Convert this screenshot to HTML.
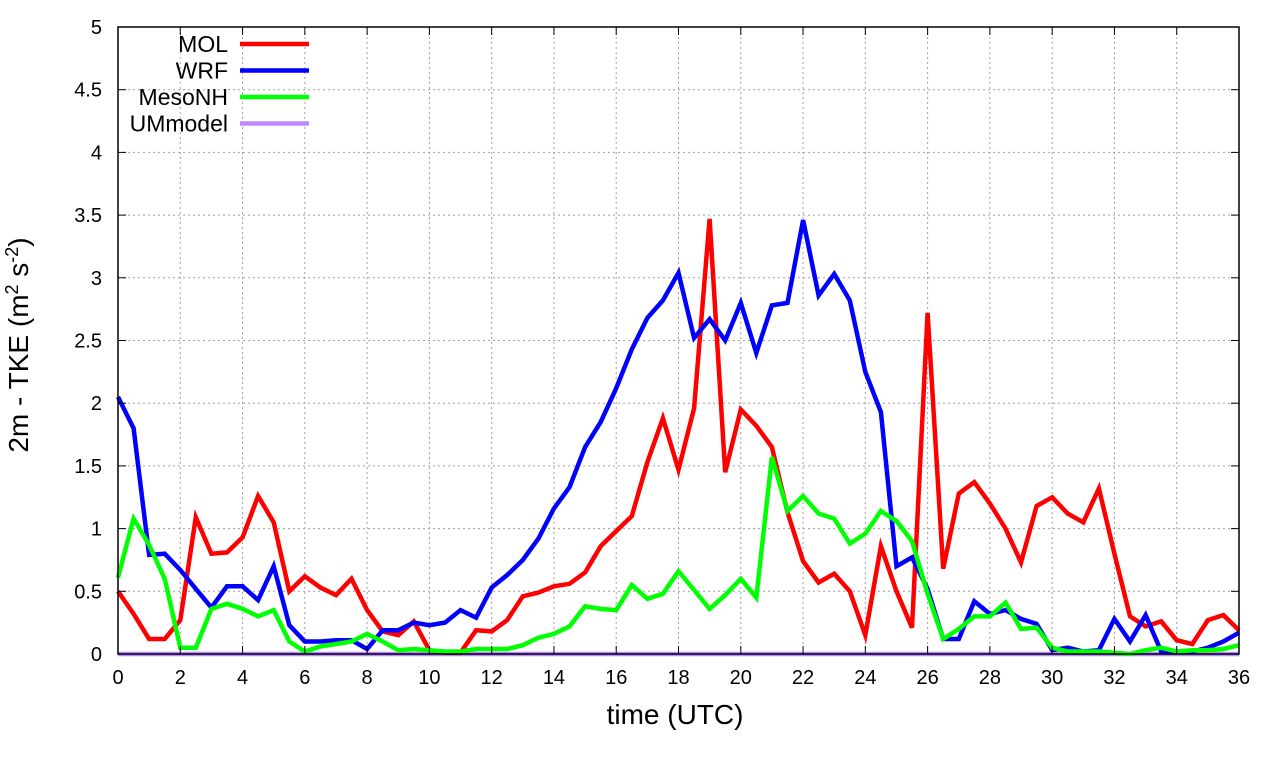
<!DOCTYPE html>
<html><head><meta charset="utf-8"><style>
body{margin:0;background:#fff;font-family:"Liberation Sans",sans-serif}
svg text{font-family:"Liberation Sans",sans-serif;fill:#000}
</style></head><body>
<svg id="chart" width="1280" height="760" xmlns="http://www.w3.org/2000/svg">
<g id="grid"></g>
<g id="series"></g>
<rect x="118" y="27" width="1121" height="627" fill="none" stroke="#000" stroke-width="1.5"/>
<g id="ticks"></g>
<text x="675" y="724" font-size="28" text-anchor="middle">time (UTC)</text>
<text transform="translate(28,345) rotate(-90)" font-size="28" text-anchor="middle">2m - TKE (m<tspan font-size="18" dy="-10">2</tspan><tspan dy="10"> s</tspan><tspan font-size="18" dy="-10">-2</tspan><tspan dy="10">)</tspan></text>
<g id="legend"></g>
</svg>
<script>
const hours=[];for(let i=0;i<=72;i++)hours.push(i/2);
const molValues=[0.5,0.32,0.12,0.12,0.27,1.09,0.8,0.81,0.93,1.26,1.05,0.5,0.62,0.53,0.47,0.6,0.35,0.18,0.15,0.26,0.03,0.01,0.01,0.19,0.18,0.27,0.46,0.49,0.54,0.56,0.65,0.86,0.98,1.1,1.53,1.88,1.47,1.96,3.47,1.45,1.95,1.82,1.65,1.13,0.74,0.57,0.64,0.5,0.15,0.86,0.5,0.21,2.72,0.68,1.28,1.37,1.2,1.0,0.73,1.18,1.25,1.12,1.05,1.32,0.8,0.3,0.22,0.26,0.11,0.08,0.27,0.31,0.19];
const wrfValues=[2.05,1.8,0.79,0.8,0.67,0.52,0.37,0.54,0.54,0.43,0.7,0.23,0.1,0.1,0.11,0.11,0.04,0.19,0.19,0.25,0.23,0.25,0.35,0.29,0.53,0.63,0.75,0.92,1.16,1.33,1.65,1.85,2.12,2.43,2.68,2.82,3.04,2.52,2.67,2.5,2.8,2.4,2.78,2.8,3.46,2.86,3.03,2.82,2.25,1.93,0.7,0.77,0.52,0.12,0.12,0.42,0.32,0.35,0.28,0.24,0.03,0.05,0.02,0.03,0.28,0.1,0.31,0.02,0.02,0.02,0.05,0.1,0.17];
const mesonhValues=[0.61,1.08,0.87,0.6,0.05,0.05,0.36,0.4,0.36,0.3,0.35,0.1,0.02,0.06,0.08,0.1,0.16,0.1,0.03,0.04,0.03,0.02,0.02,0.04,0.04,0.04,0.07,0.13,0.16,0.22,0.38,0.36,0.35,0.55,0.44,0.48,0.66,0.51,0.36,0.47,0.6,0.45,1.57,1.14,1.26,1.12,1.08,0.88,0.96,1.14,1.06,0.9,0.48,0.12,0.2,0.3,0.3,0.41,0.2,0.21,0.05,0.02,0.02,0.02,0.01,0,0.03,0.05,0.02,0.03,0.03,0.04,0.07];
const ummodelValues=hours.map(()=>0);
const xTicks=[0,2,4,6,8,10,12,14,16,18,20,22,24,26,28,30,32,34,36];
const yTicks=[0,0.5,1,1.5,2,2.5,3,3.5,4,4.5,5];
const yTickLabels=["0","0.5","1","1.5","2","2.5","3","3.5","4","4.5","5"];
const seriesNames=["MOL","WRF","MesoNH","UMmodel"];
const X0=118,X1=1239,Y0=654,Y1=27;
const xs=v=>X0+(X1-X0)*v/36, ys=v=>Y0-(Y0-Y1)*v/5;
const NS="http://www.w3.org/2000/svg";
function mk(t,a,p){const e=document.createElementNS(NS,t);for(const k in a)e.setAttribute(k,a[k]);p.appendChild(e);return e;}
const grid=document.getElementById('grid'),ticks=document.getElementById('ticks');
xTicks.forEach(t=>{
 const l=mk('line',{x1:xs(t),x2:xs(t),y1:Y1,y2:Y0,stroke:'#a0a0a0','stroke-dasharray':'2,3'},grid);
 
 const a=mk('line',{x1:xs(t),x2:xs(t),y1:Y0,y2:Y0-8,stroke:'#000'},ticks);
 
 const b=mk('line',{x1:xs(t),x2:xs(t),y1:Y1,y2:Y1+8,stroke:'#000'},ticks);
 
 const tx=mk('text',{x:xs(t),y:Y0+30,'font-size':20,'text-anchor':'middle'},ticks);tx.textContent=t;
 
});
yTicks.forEach((t,i)=>{
 const l=mk('line',{x1:X0,x2:X1,y1:ys(t),y2:ys(t),stroke:'#a0a0a0','stroke-dasharray':'2,3'},grid);
 
 const a=mk('line',{x1:X0,x2:X0+8,y1:ys(t),y2:ys(t),stroke:'#000'},ticks);
 
 const b=mk('line',{x1:X1,x2:X1-8,y1:ys(t),y2:ys(t),stroke:'#000'},ticks);
 
 const tx=mk('text',{x:X0-16,y:ys(t)+7,'font-size':20,'text-anchor':'end'},ticks);tx.textContent=yTickLabels[i];
 
});
const colors=['#ff0000','#0000ff','#00ff00','#bb88ff'];
const data=[molValues,wrfValues,mesonhValues,ummodelValues];
const sg=document.getElementById('series'),lg=document.getElementById('legend');
[3,0,1,2].forEach(i=>{
 const pts=data[i].map((v,j)=>xs(hours[j]).toFixed(1)+','+ys(v).toFixed(1)).join(' ');
 const p=mk('polyline',{points:pts,fill:'none',stroke:colors[i],'stroke-width':4.5,'stroke-linejoin':'miter'},sg);
 
});
seriesNames.forEach((n,i)=>{
 const y=44+i*26.5;
 const t=mk('text',{x:228,y:y+8,'font-size':23,'text-anchor':'end'},lg);t.textContent=n;
 
 const l=mk('line',{x1:240,x2:309,y1:y,y2:y,stroke:colors[i],'stroke-width':4.5},lg);
 
});
</script>
</body></html>
